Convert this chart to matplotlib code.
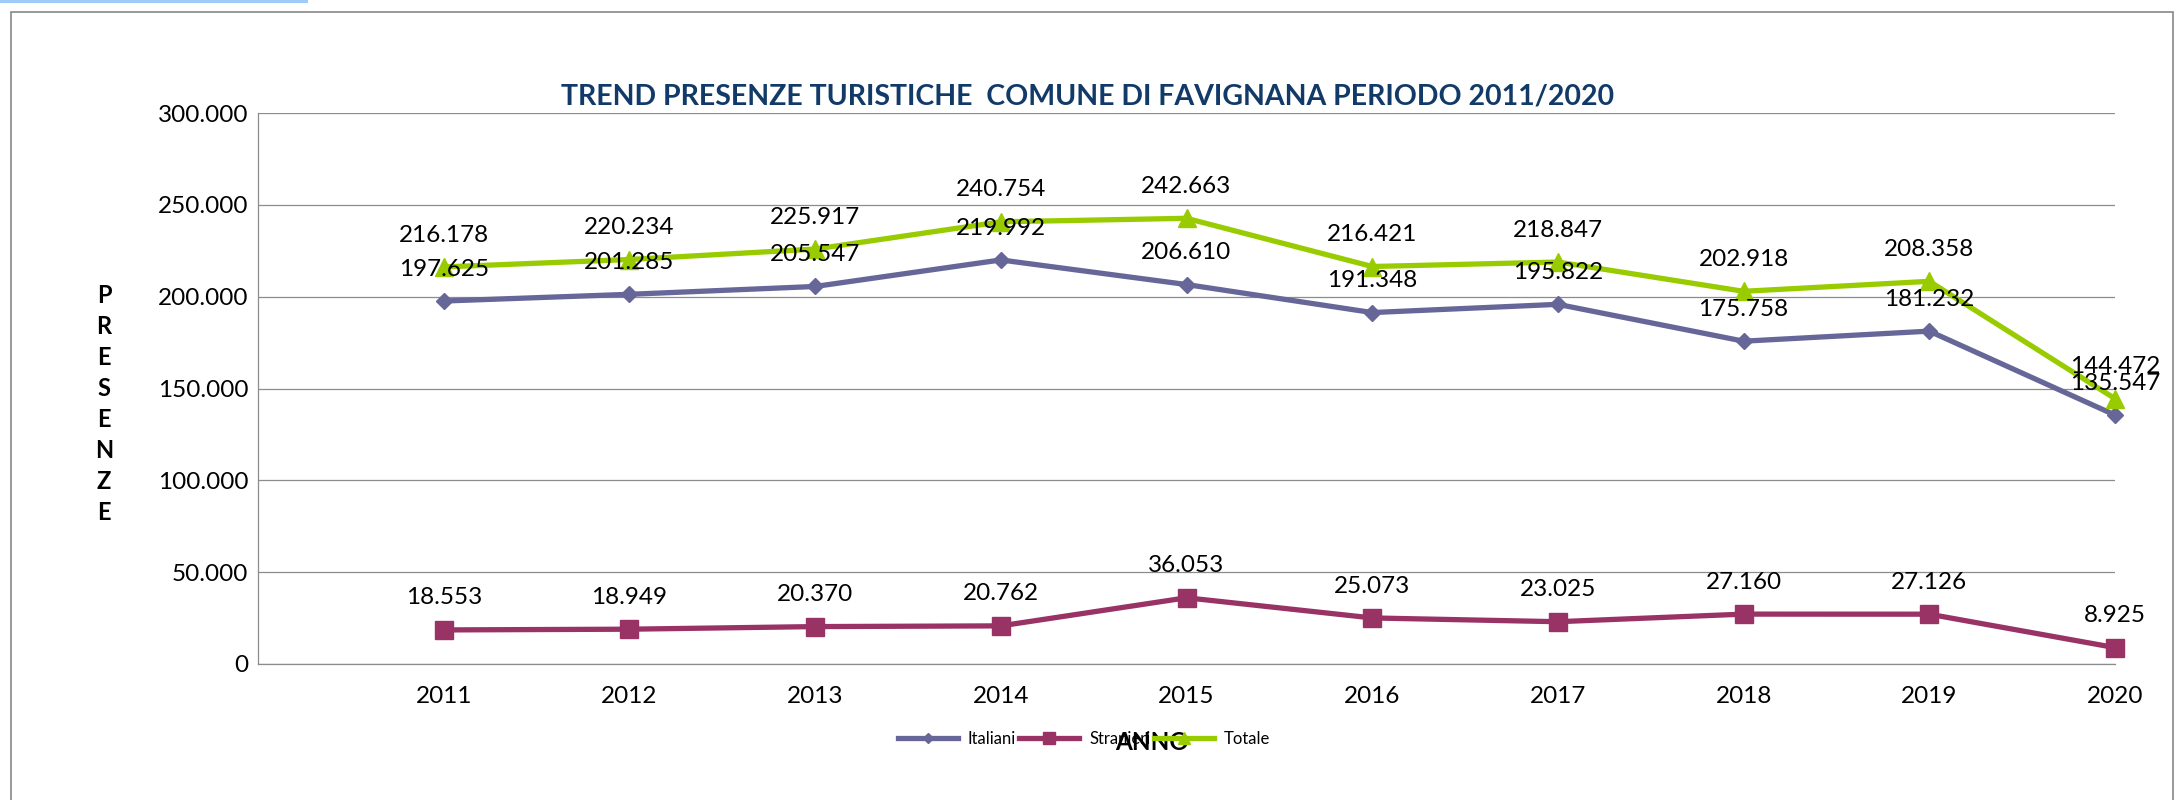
import matplotlib
matplotlib.use("Agg")
import matplotlib.pyplot as plt
from matplotlib.patches import Rectangle
from matplotlib.ticker import FuncFormatter

plt.rcParams['font.family'] = ['Lato', 'DejaVu Sans']

# data
anni = ["2011", "2012", "2013", "2014", "2015", "2016", "2017", "2018", "2019", "2020"]
italiani = [197625, 201285, 205547, 219992, 206610, 191348, 195822, 175758, 181232, 135547]
stranieri = [18553, 18949, 20370, 20762, 36053, 25073, 23025, 27160, 27126, 8925]
totale = [216178, 220234, 225917, 240754, 242663, 216421, 218847, 202918, 208358, 144472]
y_ticks = [0, 50000, 100000, 150000, 200000, 250000, 300000]


def fmt(v, pos=None):
    # italian thousands separator
    return f"{int(v):,}".replace(",", ".")


W, H = 2174, 800
fig = plt.figure(figsize=(W / 100, H / 100), dpi=100)
ax = fig.add_axes([258 / W, 1 - 664 / H, (2115 - 258) / W, (664 - 113) / H])

x = list(range(1, len(anni) + 1))

# series
series = [
    (italiani, "Italiani", "#666699", "D", 8.5),
    (stranieri, "Stranieri", "#993366", "s", 13.5),
    (totale, "Totale", "#99CC00", "^", 13.5),
]
for vals, name, col, mk, ms in series:
    ax.plot(x, vals, color=col, lw=3.8, marker=mk, markersize=ms,
            markerfacecolor=col, markeredgecolor=col, label=name,
            clip_on=False, zorder=3)

# data labels above each point
for vals, name, col, mk, ms in series:
    for xi, v in zip(x, vals):
        ax.annotate(fmt(v), (xi, v), xytext=(0, 23), textcoords="offset points",
                    ha="center", va="center", fontsize=17.5, color="black",
                    zorder=5, annotation_clip=False)

ax.set_xlim(0, 10)
ax.set_ylim(0, 300000)
ax.set_xticks(x)
ax.set_xticklabels(anni)
ax.set_yticks(y_ticks)
ax.yaxis.set_major_formatter(FuncFormatter(fmt))
ax.tick_params(axis="both", length=0, labelsize=17.5)
ax.tick_params(axis="x", pad=16)
ax.tick_params(axis="y", pad=7)

ax.grid(axis="y", color="#8c8c8c", lw=0.9)
ax.set_axisbelow(True)
for s in ["top", "right"]:
    ax.spines[s].set_visible(False)
for s in ["left", "bottom"]:
    ax.spines[s].set_color("#8c8c8c")
    ax.spines[s].set_linewidth(0.9)

# title and axis titles
fig.text(1088 / W, 1 - 97 / H, "TREND PRESENZE TURISTICHE  COMUNE DI FAVIGNANA PERIODO 2011/2020",
         ha="center", va="center", fontsize=20.5, fontweight="bold", color="#123A68")
fig.text(104 / W, 1 - 404 / H, "\n".join("PRESENZE"), ha="center", va="center",
         fontsize=17, fontweight="bold", linespacing=1.42)

# legend under the plot
fig.legend(loc="center", bbox_to_anchor=(1084 / W, 1 - 739 / H), ncol=3, frameon=False,
           fontsize=12, handlelength=3.6, handletextpad=0.6, columnspacing=0.2,
           markerscale=0.6)
fig.text(1152 / W, 1 - 743 / H, "ANNO", ha="center", va="center",
         fontsize=17.5, fontweight="bold")

# chart frame and the small blue bar at the top
fig.patches.append(Rectangle((11 / W, -0.01), (2172.5 - 11) / W, 1.01 - 12 / H,
                             transform=fig.transFigure, fill=False,
                             edgecolor="#878787", lw=1.2))
fig.patches.append(Rectangle((0, 1 - 3 / H), 308 / W, 3 / H, transform=fig.transFigure,
                             color="#9ECBF7", lw=0))

fig.savefig("out.png", dpi=100)
